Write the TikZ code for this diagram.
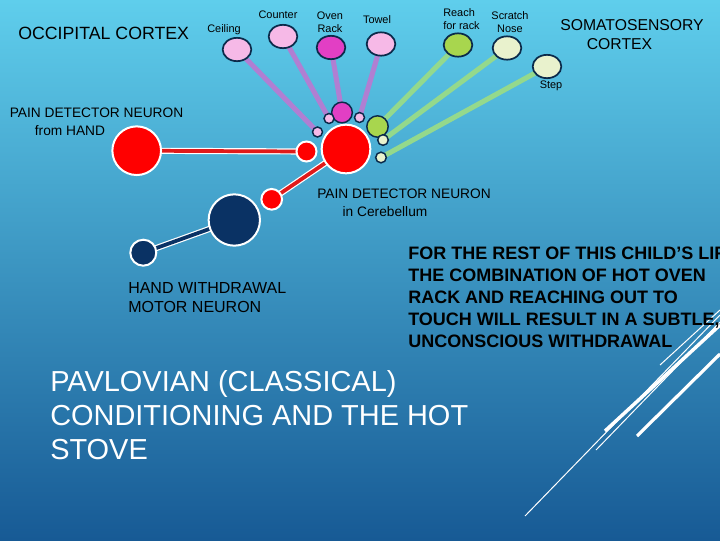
\documentclass[tikz,border=0pt]{standalone}
\usepackage{fontspec}
\setmainfont{Liberation Sans}
\usetikzlibrary{shapes.geometric}
\definecolor{bgtop}{HTML}{5FCEEC}
\definecolor{bgmid}{HTML}{3AA2CF}
\definecolor{bgbot}{HTML}{175A95}
\definecolor{outl}{HTML}{0B2A4A}
\definecolor{navyf}{HTML}{0A3264}
\definecolor{pinkf}{HTML}{F6B9E7}
\definecolor{magf}{HTML}{E23FC4}
\definecolor{limef}{HTML}{A8D64E}
\definecolor{palef}{HTML}{E9F2CD}
\definecolor{purpl}{HTML}{B07FD2}
\definecolor{greenl}{HTML}{94D98C}
\definecolor{redc}{HTML}{E01A1A}
\pgfdeclarelayer{back}
\pgfdeclarelayer{links}
\pgfsetlayers{back,links,main}
\begin{document}
\begin{tikzpicture}[x=0.75pt,y=-0.75pt,
  lbl/.style={inner sep=0pt, text=black, font=\fontsize{8.2pt}{9.75pt}\selectfont},
  midlbl/.style={inner sep=0pt, text=black, font=\fontsize{10.3pt}{12pt}\selectfont},
  cortexel/.style={ellipse, draw=outl, line width=1.3pt, inner sep=0pt, minimum width=21.5pt, minimum height=17.5pt},
  bigdot/.style={circle, draw=white, line width=1.5pt, inner sep=0pt},
  smalldot/.style={circle, draw=outl, line width=1.1pt, inner sep=0pt},
  purplink/.style={draw=purpl, line width=3.8pt},
  greenlink/.style={draw=greenl, line width=3.8pt},
  whiteedge/.style={draw=white, line width=4.6pt},
  redcore/.style={draw=redc, line width=2.8pt},
  navycore/.style={draw=navyf, line width=2.8pt},
  deco/.style={draw=white, line cap=butt}
]
\useasboundingbox (0,0) rectangle (720,540);
\begin{pgfonlayer}{back}
\fill[top color=bgtop, middle color=bgmid, bottom color=bgbot] (0,0) rectangle (720,540);
\end{pgfonlayer}
\clip (0,0) rectangle (720,540);

% decorative lines
\draw[deco, line width=0.75pt] (525,516) -- (720,315);
\draw[deco, line width=2.6pt] (605,431) -- (720,325);
\draw[deco, line width=0.75pt] (596,450) -- (720,322);
\draw[deco, line width=2.4pt] (637,436) -- (720,354);
\draw[deco, line width=0.75pt] (660,365) -- (720,310);

% cortex ellipses
\node[cortexel, fill=pinkf] (ceil) at (237,49.5) {};
\node[cortexel, fill=pinkf] (counter) at (283,36.5) {};
\node[cortexel, fill=magf] (oven) at (331,47.5) {};
\node[cortexel, fill=pinkf] (towel) at (381,44) {};
\node[cortexel, fill=limef] (reach) at (458,45) {};
\node[cortexel, fill=palef] (scratch) at (507,48) {};
\node[cortexel, fill=palef] (stepel) at (547,66.5) {};

% neurons
\node[bigdot, fill=red, minimum size=36.5pt] (cereb) at (346,149) {};
\node[bigdot, fill=red, minimum size=36.5pt] (hand) at (136.7,150.7) {};
\node[bigdot, fill=red, minimum size=15pt] (rs1) at (306.5,151.5) {};
\node[bigdot, fill=red, minimum size=15.5pt] (rs2) at (271.7,199.3) {};
\node[bigdot, fill=navyf, minimum size=38.5pt] (navybig) at (234.3,220) {};
\node[bigdot, fill=navyf, minimum size=19.5pt] (navysmall) at (143.3,252.7) {};

\node[smalldot, fill=magf, minimum size=15.5pt] (mag) at (342,112.5) {};
\node[smalldot, fill=pinkf, minimum size=7.5pt] (pk1) at (317.5,132) {};
\node[smalldot, fill=pinkf, minimum size=7.5pt] (pk2) at (329,118.5) {};
\node[smalldot, fill=pinkf, minimum size=7.5pt] (pk3) at (359.5,117.5) {};
\node[smalldot, fill=limef, minimum size=16pt] (grn) at (377.5,126.5) {};
\node[smalldot, fill=palef, minimum size=8pt] (pl1) at (383,140) {};
\node[smalldot, fill=palef, minimum size=8pt] (pl2) at (381,157.5) {};

\begin{pgfonlayer}{links}
\draw[purplink] (ceil.center) -- (pk1.center);
\draw[purplink] (counter.center) -- (pk2.center);
\draw[purplink] (oven.center) -- (mag.center);
\draw[purplink] (towel.center) -- (pk3.center);
\draw[greenlink] (reach.center) -- (grn.center);
\draw[greenlink] (scratch.center) -- (pl1.center);
\draw[greenlink] (stepel.center) -- (pl2.center);
\draw[whiteedge] (hand.center) -- (rs1.center);
\draw[redcore] (hand.center) -- (rs1.center);
\draw[whiteedge] (cereb.center) -- (rs2.center);
\draw[redcore] (cereb.center) -- (rs2.center);
\draw[whiteedge] (navybig.center) -- (navysmall.center);
\draw[navycore] (navybig.center) -- (navysmall.center);
\end{pgfonlayer}

% labels
\node[inner sep=0pt, anchor=west, font=\fontsize{13.3pt}{15pt}\selectfont] (occ) at (18,33) {OCCIPITAL CORTEX};
\node[lbl] (tceil) at (224,30) {Ceiling};
\node[lbl] (tcounter) at (278,15) {Counter};
\node[lbl, align=center] (toven) at (330,22.5) {Oven\\Rack};
\node[lbl] (ttowel) at (377,20) {Towel};
\node[lbl, align=left, anchor=west] (treach) at (443,18.7) {Reach\\for rack};
\node[lbl, align=center] (tscratch) at (510,22.5) {Scratch\\Nose};
\node[lbl] (tstep) at (551,85.5) {Step};
\node[inner sep=0pt, font=\fontsize{11.8pt}{14pt}\selectfont] (tsoma1) at (632,25.5) {SOMATOSENSORY};
\node[inner sep=0pt, font=\fontsize{11.8pt}{14pt}\selectfont] (tsoma2) at (619.5,44) {CORTEX};

\node[midlbl] (thand1) at (96.5,113) {PAIN DETECTOR NEURON};
\node[midlbl] (thand2) at (70,130.5) {from HAND};
\node[midlbl] (tcer1) at (404,194) {PAIN DETECTOR NEURON};
\node[midlbl] (tcer2) at (385,211.5) {in Cerebellum};
\node[inner sep=0pt, anchor=north west, align=left, font=\fontsize{12pt}{14.25pt}\selectfont] (tmotor) at (128,282.3) {HAND WITHDRAWAL\\MOTOR NEURON};

\node[inner sep=0pt, anchor=north west, align=left, font=\fontsize{13.5pt}{16.5pt}\selectfont\bfseries] (tbold) at (408,246.5)
  {FOR THE REST OF THIS CHILD’S LIFE,\\THE COMBINATION OF HOT OVEN\\RACK AND REACHING OUT TO\\TOUCH WILL RESULT IN A SUBTLE,\\UNCONSCIOUS WITHDRAWAL};

\node[inner sep=0pt, anchor=north west, align=left, text=white, font=\fontsize{21.7pt}{25.5pt}\selectfont] (title) at (50,370.5)
  {PAVLOVIAN (CLASSICAL)\\CONDITIONING AND THE HOT\\STOVE};
\end{tikzpicture}
\end{document}
